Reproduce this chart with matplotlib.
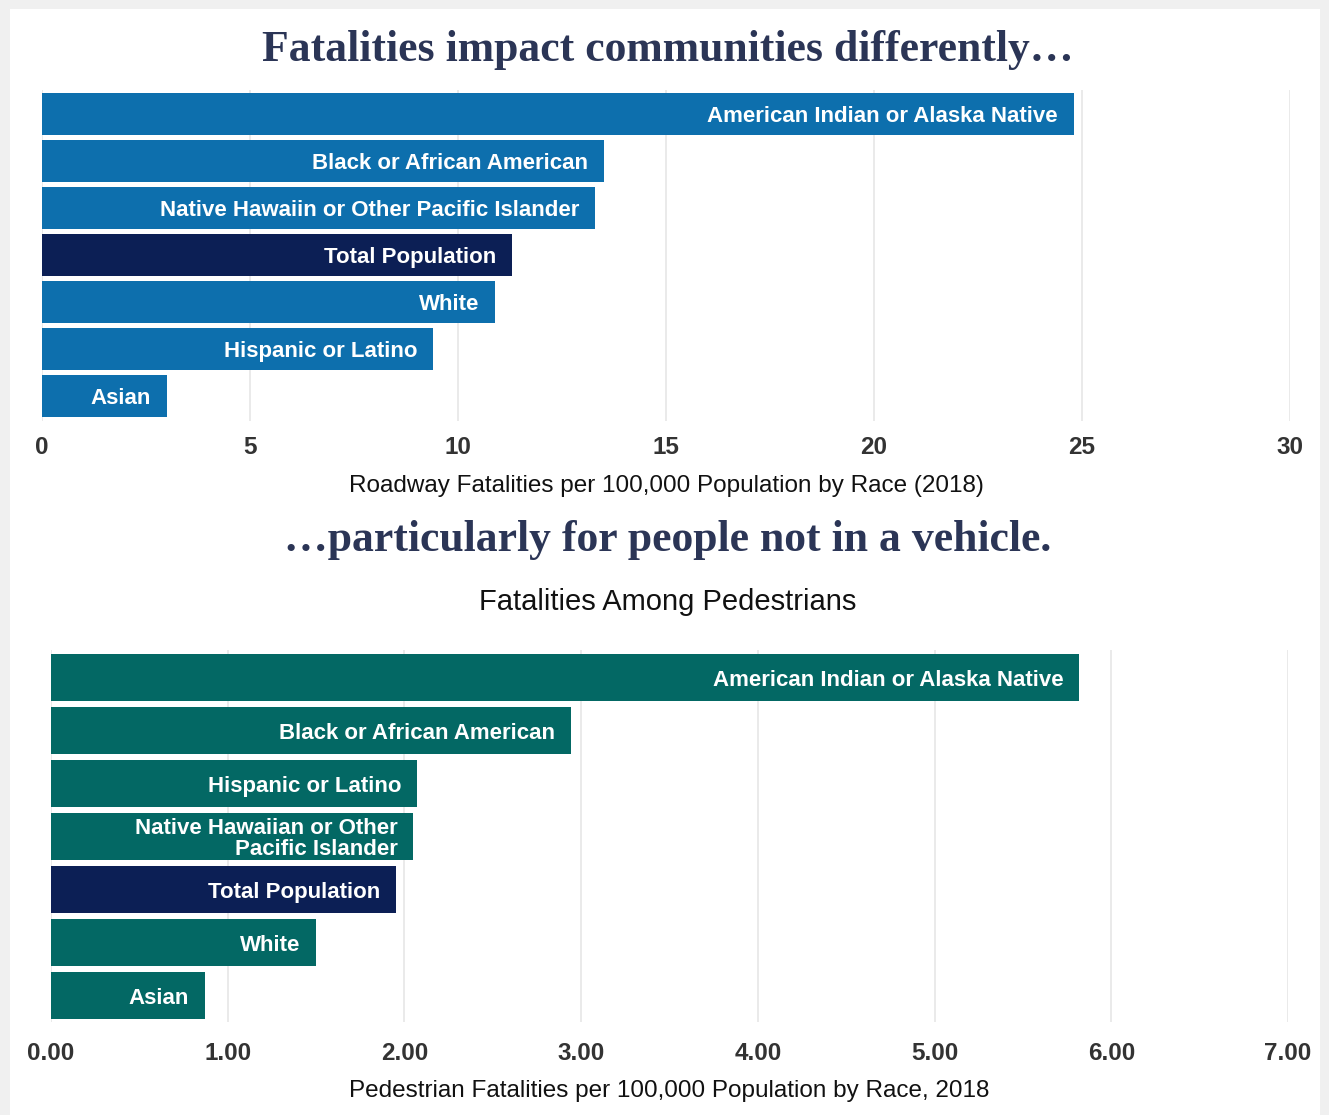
import matplotlib.pyplot as plt
from matplotlib.patches import Rectangle

# roadway fatalities per 100k, 2018
road_groups = ['American Indian or Alaska Native', 'Black or African American',
               'Native Hawaiin or Other Pacific Islander', 'Total Population',
               'White', 'Hispanic or Latino', 'Asian']
road_rates = [24.8, 13.5, 13.3, 11.3, 10.9, 9.4, 3.0]

# pedestrian fatalities per 100k, 2018
ped_groups = ['American Indian or Alaska Native', 'Black or African American',
              'Hispanic or Latino', 'Native Hawaiian or Other\nPacific Islander',
              'Total Population', 'White', 'Asian']
ped_rates = [5.82, 2.94, 2.07, 2.05, 1.95, 1.50, 0.87]

road_ticks = [0, 5, 10, 15, 20, 25, 30]
ped_ticks = [0, 1, 2, 3, 4, 5, 6, 7]

blue = '#0d6fad'
teal = '#036864'
navy = '#0c1f55'
sans = ['Liberation Sans', 'DejaVu Sans']
serif = ['Liberation Serif', 'DejaVu Serif']

fig = plt.figure(figsize=(13.29, 11.15), dpi=100)
fig.patch.set_facecolor('#f0f0f0')
fig.patches.append(Rectangle((10 / 1329, 0), 1310 / 1329, 1 - 9 / 1115,
                             transform=fig.transFigure, facecolor='white',
                             edgecolor='none', zorder=-5))


def draw(ax, groups, rates, base, ticks, fmt, xmax, ylim, pad):
    pos = list(range(len(groups)))
    cols = [navy if g == 'Total Population' else base for g in groups]
    ax.barh(pos, rates, height=0.89, color=cols, zorder=2)
    for p, v, g in zip(pos, rates, groups):
        ax.text(v - xmax * 0.0125, p, g, ha='right', va='center_baseline',
                color='white', fontsize=16, fontweight='bold', family=sans,
                linespacing=1.0, zorder=3)
    ax.set_xlim(0, xmax)
    ax.set_ylim(*ylim)
    ax.set_xticks(ticks)
    ax.set_xticklabels([fmt.format(t) for t in ticks], family=sans,
                       fontsize=17.5, fontweight='bold', color='#333333')
    ax.set_yticks([])
    ax.tick_params(axis='x', length=0, pad=pad)
    ax.grid(axis='x', color='#e6e6e6', linewidth=1.2, zorder=0)
    ax.set_axisbelow(True)
    for s in ax.spines.values():
        s.set_visible(False)
    ax.patch.set_alpha(0)


ax1 = fig.add_axes([42 / 1329, 1 - 421 / 1115, 1248 / 1329, 331 / 1115])
draw(ax1, road_groups, road_rates, blue, road_ticks, '{:d}', 30, (6.53, -0.51), 11)
ax1.set_xlabel('Roadway Fatalities per 100,000 Population by Race (2018)',
               family=sans, fontsize=17.5, color='#111111', labelpad=11)

ax2 = fig.add_axes([51 / 1329, 1 - 1022 / 1115, 1237 / 1329, 372 / 1115])
draw(ax2, ped_groups, ped_rates, teal, ped_ticks, '{:.2f}', 7, (6.5, -0.52), 14.5)
ax2.set_xlabel('Pedestrian Fatalities per 100,000 Population by Race, 2018',
               family=sans, fontsize=17.5, color='#111111', labelpad=11)

fig.text(668 / 1329, 1 - 50 / 1115, 'Fatalities impact communities differently…',
         ha='center', va='center', family=serif, fontsize=31.5,
         fontweight='bold', color='#2b3556')
fig.text(668 / 1329, 1 - 540 / 1115, '…particularly for people not in a vehicle.',
         ha='center', va='center', family=serif, fontsize=31.5,
         fontweight='bold', color='#2b3556')
fig.text(668 / 1329, 1 - 602 / 1115, 'Fatalities Among Pedestrians',
         ha='center', va='center', family=sans, fontsize=21,
         color='#111111')

fig.savefig('out.png', dpi=100)
